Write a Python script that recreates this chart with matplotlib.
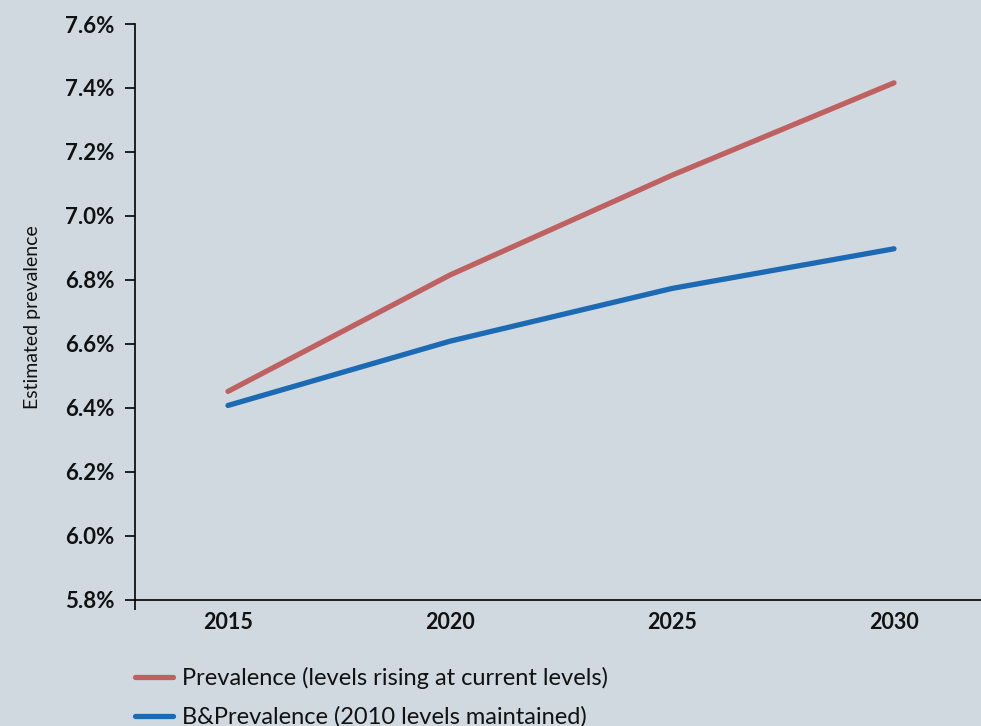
import matplotlib
matplotlib.use('Agg')
import matplotlib.pyplot as plt
import numpy as np

# Data
years = ['2015', '2020', '2025', '2030']
prevalence_rising = [6.451, 6.815, 7.127, 7.416]
prevalence_2010 = [6.407, 6.608, 6.773, 6.897]
labels = ['Prevalence (levels rising at current levels)',
          'B&Prevalence (2010 levels maintained)']
yticks = [5.8, 6.0, 6.2, 6.4, 6.6, 6.8, 7.0, 7.2, 7.4, 7.6]

bg = '#d0d9e0'
red = '#bf6160'
blue = '#1d6ab4'
ink = '#111111'

plt.rcParams['font.family'] = ['Lato', 'DejaVu Sans']

fig = plt.figure(figsize=(9.81, 7.26), dpi=100, facecolor=bg)
ax = fig.add_axes([0.1376, 0.1742, 0.8624, 0.7927], facecolor=bg)

x = np.arange(len(years))
l1, = ax.plot(x, prevalence_rising, color=red, lw=3.8, solid_capstyle='round')
l2, = ax.plot(x, prevalence_2010, color=blue, lw=3.8, solid_capstyle='round')

ax.set_xlim(-0.419, 3.392)
ax.set_ylim(5.8, 7.6)
ax.set_yticks(yticks)
ax.set_yticklabels([f'{v:.1f}%' for v in yticks], fontsize=16, fontweight='bold', color=ink)
ax.set_xticks(x)
ax.set_xticklabels(years, fontsize=15.5, fontweight='bold', color=ink)
ax.tick_params(axis='x', length=0, pad=9)
ax.tick_params(axis='y', length=7, width=1.2, pad=8, direction='out')
ax.set_xticks([-0.419], minor=True)
ax.tick_params(axis='x', which='minor', length=7, width=1.2)

for s in ['top', 'right']:
    ax.spines[s].set_visible(False)
ax.spines['left'].set_linewidth(1.2)
ax.spines['bottom'].set_linewidth(1.2)

ax.set_ylabel('Estimated prevalence', fontsize=14, color=ink)
ax.yaxis.set_label_coords(-0.111, 0.491)

leg = fig.legend([l1, l2], labels, loc='upper left', bbox_to_anchor=(0.1376, 0.081),
                 frameon=False, fontsize=17, handlelength=1.6, handletextpad=0.38,
                 labelspacing=0.72, borderaxespad=0, borderpad=0)
for t in leg.get_texts():
    t.set_color(ink)

fig.savefig('out.png', dpi=100, facecolor=bg)
